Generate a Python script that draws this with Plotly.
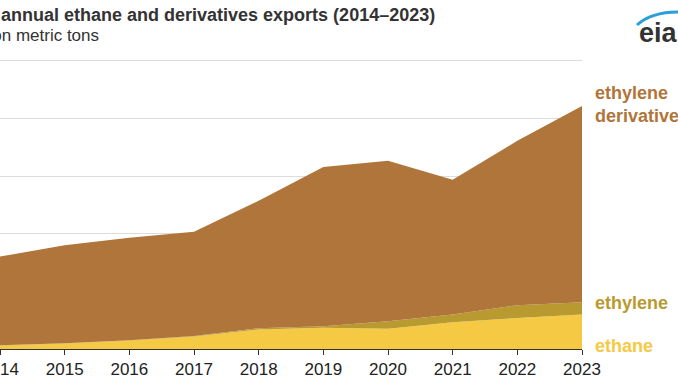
import plotly.graph_objects as go

years = [2014, 2015, 2016, 2017, 2018, 2019, 2020, 2021, 2022, 2023]
tick_labels = [str(y) for y in years]
ethane = [0.30, 0.48, 0.74, 1.08, 1.69, 1.84, 1.75, 2.32, 2.70, 2.99]
ethylene = [0.02, 0.02, 0.03, 0.05, 0.11, 0.14, 0.66, 0.67, 1.10, 1.07]
ethylene_derivatives = [7.70, 8.50, 8.89, 9.05, 11.07, 13.81, 13.92, 11.70, 14.27, 17.04]

C_DER = "#B0753A"
C_ETY = "#B99A30"
C_ETH = "#F5C944"

W, H = 678, 381
L, R, T, B = 0, 96, 59, 32
PW = W - L - R
PH = H - T - B


def px(x):
    return (x - L) / PW


def py(y):
    return (H - B - y) / PH


fig = go.Figure()
for name, vals, col in [("ethane", ethane, C_ETH),
                        ("ethylene", ethylene, C_ETY),
                        ("ethylene derivatives", ethylene_derivatives, C_DER)]:
    fig.add_trace(go.Scatter(x=years, y=vals, name=name, stackgroup="one",
                             mode="lines", line=dict(width=0, color=col),
                             fillcolor=col, hoverinfo="skip"))

font = "Liberation Sans, Arial, sans-serif"
ann = [
    dict(text="<b>U.S. annual ethane and derivatives exports (2014–2023)</b>",
         x=px(-41), y=py(15), font=dict(size=18, color="#333333")),
    dict(text="million metric tons", x=px(-39), y=py(36),
         font=dict(size=17, color="#333333")),
    dict(text="<b>ethylene<br>derivatives</b>", x=px(593), y=py(104),
         font=dict(size=18, color=C_DER)),
    dict(text="<b>ethylene</b>", x=px(593), y=py(303),
         font=dict(size=18, color=C_ETY)),
    dict(text="<b>ethane</b>", x=px(593), y=py(346),
         font=dict(size=18, color=C_ETH)),
    dict(text="<b>eia</b>", x=px(637), y=py(33),
         font=dict(size=27, color="#333333")),
]
annotations = []
for a in ann:
    d = dict(xref="paper", yref="paper", xanchor="left", yanchor="middle",
             showarrow=False, align="left")
    d.update(a)
    d["font"] = dict(family=font, **a["font"])
    annotations.append(d)

arc = "M {} {} Q {} {} {} {}".format(px(637), py(25), px(652), py(11), px(682), py(12))

fig.update_layout(
    width=W, height=H,
    margin=dict(l=L, r=R, t=T, b=B, autoexpand=False),
    plot_bgcolor="white", paper_bgcolor="white",
    showlegend=False,
    font=dict(family=font, color="#222222"),
    annotations=annotations,
    shapes=[dict(type="path", xref="paper", yref="paper", path=arc,
                 line=dict(color="#2A9FD8", width=3))],
    xaxis=dict(range=[2014, 2023], tickvals=years, ticktext=tick_labels,
               ticks="outside", ticklen=5, tickcolor="#333333",
               showline=True, linecolor="#333333", linewidth=1,
               showgrid=False, zeroline=False, automargin=False,
               ticklabeloverflow="allow",
               tickfont=dict(size=17, color="#222222", family=font)),
    yaxis=dict(range=[0, 25.17], tickvals=[5, 10, 15, 20, 25], showticklabels=False,
               showgrid=True, gridcolor="#dcdcdc", gridwidth=1,
               zeroline=False, showline=False, automargin=False),
)

fig.write_html("out.html", config={"displayModeBar": False},
               post_script="document.body.style.margin='0';document.body.style.overflow='hidden';")
